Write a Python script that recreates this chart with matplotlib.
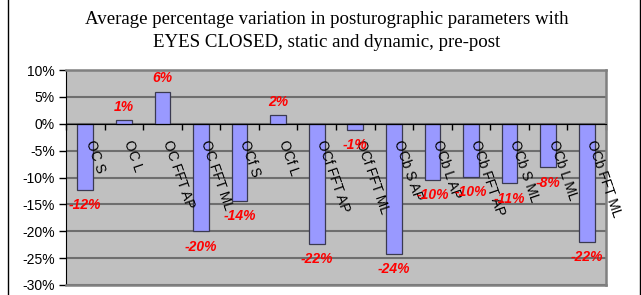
import matplotlib
matplotlib.use("Agg")
import matplotlib.pyplot as plt
from matplotlib.lines import Line2D
from matplotlib.ticker import FuncFormatter, MultipleLocator

categories = ["OC S", "OC L", "OC FFT AP", "OC FFT ML", "OCf S", "OCf L",
              "OCf FFT AP", "OCf FFT ML", "OCb S AP", "OCb L AP",
              "OCb FFT AP", "OCb S ML", "OCb L ML", "OCb FFT ML"]
values = [-12.3, 0.7, 6.0, -20.0, -14.3, 1.6, -22.3, -1.2, -24.2, -10.4,
          -9.9, -11.1, -8.1, -22.0]
title = ("Average percentage variation in posturographic parameters with\n"
         "EYES CLOSED, static and dynamic, pre-post")

plt.rcParams['font.family'] = ['Liberation Sans', 'DejaVu Sans']

fig = plt.figure(figsize=(6.41, 2.95), dpi=100)
ax = fig.add_axes([66 / 641, 10 / 295, 540 / 641, 215 / 295])
ax.set_facecolor('#c0c0c0')

x = list(range(len(categories)))
ax.bar(x, values, width=0.41, color='#9999ff', edgecolor='#3a3a50',
       linewidth=0.9, zorder=3)

ax.set_xlim(-0.5, len(categories) - 0.5)
ax.set_ylim(-30, 10)
ax.yaxis.set_major_locator(MultipleLocator(5))
ax.yaxis.set_major_formatter(FuncFormatter(lambda v, p: f"{v:.0f}%"))
ax.tick_params(axis='y', direction='out', length=5, width=1, color='black',
               labelsize=10, pad=3)
ax.grid(axis='y', color='#6e6e6e', linewidth=1.5, zorder=1)

# category axis sits on the zero line
ax.spines['bottom'].set_position(('data', 0))
ax.spines['bottom'].set_color('black')
ax.spines['bottom'].set_zorder(4)
ax.set_xticks([i - 0.5 for i in range(len(categories) + 1)])
ax.set_xticklabels([])
ax.tick_params(axis='x', direction='out', length=4, width=1, color='black')
ax.spines['left'].set_color('black')
for s in ['top', 'right']:
    ax.spines[s].set_color('#808080')
    ax.spines[s].set_linewidth(1.8)
ax.axhline(-30, color='#808080', linewidth=1.8, clip_on=False, zorder=5)

for i, (cat, v) in enumerate(zip(categories, values)):
    ax.annotate(cat, xy=(i, 0), xytext=(3, -12), textcoords='offset points',
                rotation=-71, rotation_mode='anchor', ha='left', va='center',
                fontsize=10, color='black', zorder=6)
    off = 9.5 if v >= 0 else -11
    ax.annotate(f"{v:.0f}%", xy=(i, v), xytext=(0, off),
                textcoords='offset points', ha='center', va='center',
                fontsize=10, fontweight='bold', fontstyle='italic',
                color='#ff0000', zorder=7)

fig.text(327 / 641, 1 - 31 / 295, title, ha='center', va='center',
         family=['Liberation Serif', 'DejaVu Serif'], fontsize=13.6,
         linespacing=1.5)

# chart frame edges
fig.add_artist(Line2D([7.5 / 641] * 2, [0, 1], color='black', linewidth=1))
fig.add_artist(Line2D([639.5 / 641] * 2, [0, 1], color='black', linewidth=1))

fig.savefig("out.png", dpi=100)
